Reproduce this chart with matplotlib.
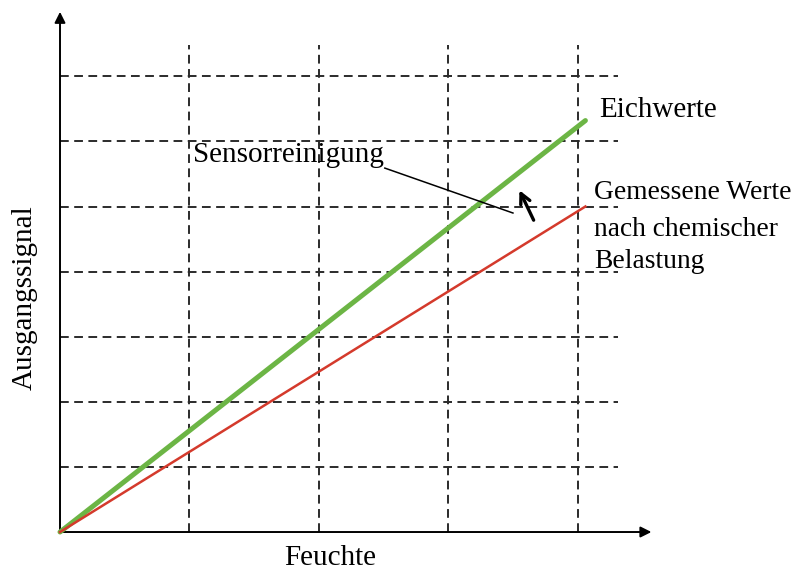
import matplotlib.pyplot as plt

plt.rcParams['font.family'] = ['Liberation Serif', 'DejaVu Serif']

# grid positions (abstract units)
grid_x = [1, 2, 3, 4]
grid_y = [1, 2, 3, 4, 5, 6, 7]

# lines
line_x = [0, 4.06]
eich_y = [0, 6.32]      # Eichwerte
gemessen_y = [0, 5.0]   # Gemessene Werte nach chemischer Belastung

x_axis_end = 4.57
y_axis_end = 7.99
hgrid_end = 4.31
vgrid_end = 7.48

gemessen_lines = ['Gemessene Werte', 'nach chemischer', 'Belastung']
gemessen_line_y = [5.21, 4.64, 4.15]

fig = plt.figure(figsize=(8.01, 5.74), dpi=100)
ax = fig.add_axes([0, 0, 1, 1])
ax.set_xlim(-0.4637, 5.726)
ax.set_ylim(-0.645, 8.172)
ax.axis('off')

dash = dict(color='#2b2b2b', lw=1.4, dashes=(4.5, 2.8))
for gx in grid_x:
    ax.plot([gx, gx], [0, vgrid_end], **dash, zorder=1)
for gy in grid_y:
    ax.plot([0, hgrid_end], [gy, gy], **dash, zorder=1)

# axes with arrows
arrow = dict(arrowstyle='-|>', color='black', lw=1.4, mutation_scale=16,
             shrinkA=0, shrinkB=0)
ax.annotate('', xy=(x_axis_end, 0), xytext=(0, 0), arrowprops=arrow, zorder=3)
ax.annotate('', xy=(0, y_axis_end), xytext=(0, 0), arrowprops=arrow, zorder=3)

ax.plot(line_x, eich_y, color='#6cb545', lw=3.6, solid_capstyle='round', zorder=4)
ax.plot(line_x, gemessen_y, color='#d43a2c', lw=1.8, zorder=4)

fs = 21
ax.text(4.17, 6.48, 'Eichwerte', fontsize=fs, va='center', ha='left')
for txt, ty in zip(gemessen_lines, gemessen_line_y):
    ax.text(4.13, ty, txt, fontsize=19.8, va='center', ha='left')

ax.text(1.03, 5.79, 'Sensorreinigung', fontsize=fs, va='center', ha='left')
ax.plot([2.51, 3.50], [5.59, 4.90], color='black', lw=1.1, zorder=5)
ax.annotate('', xy=(3.55, 5.25), xytext=(3.66, 4.79),
            arrowprops=dict(arrowstyle='->', color='black', lw=2.4,
                            mutation_scale=18, shrinkA=0, shrinkB=0), zorder=5)

ax.text(-0.27, 3.6, 'Ausgangssignal', fontsize=fs, rotation=90,
        va='center', ha='center')
ax.text(2.09, -0.40, 'Feuchte', fontsize=fs, va='center', ha='center')

fig.savefig('out.png', dpi=100)
